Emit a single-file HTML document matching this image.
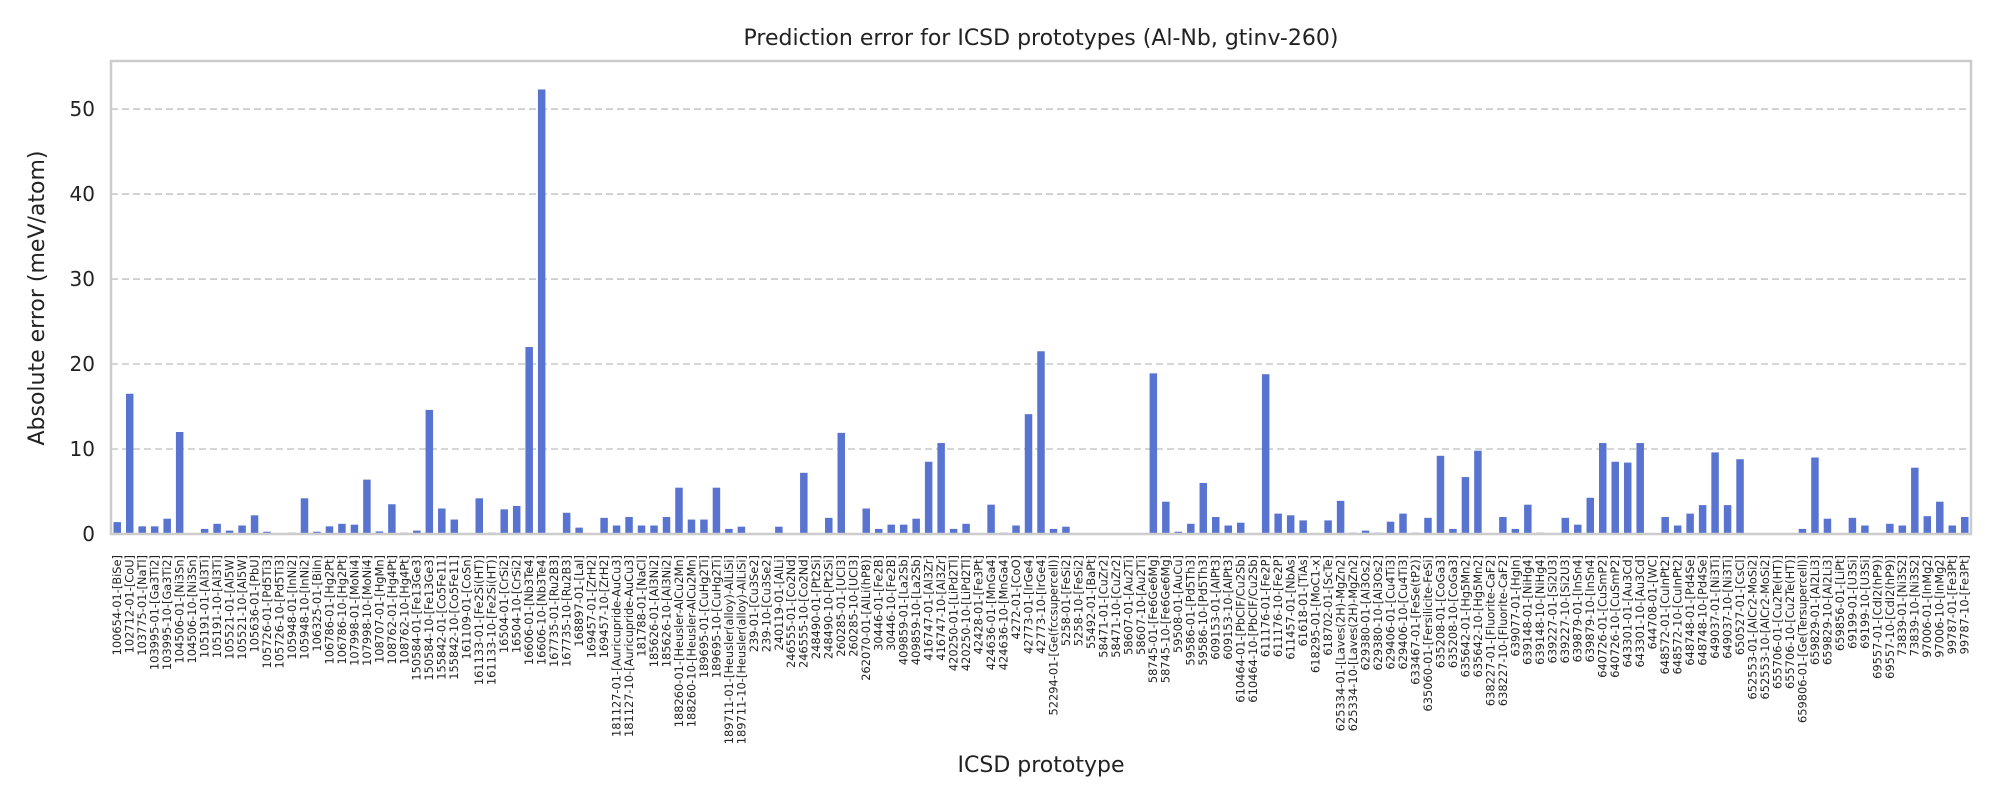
<!DOCTYPE html>
<html><head><meta charset="utf-8"><style>
html,body{margin:0;padding:0;background:#fff;}
svg{display:block;font-family:"DejaVu Sans","Liberation Sans",sans-serif;}
</style></head><body>
<svg id="chart" width="2000" height="800" viewBox="0 0 2000 800" xmlns="http://www.w3.org/2000/svg">
<rect x="0" y="0" width="2000" height="800" fill="#fff"/>
<text x="1041" y="45" font-size="22" text-anchor="middle" fill="#222">Prediction error for ICSD prototypes (Al-Nb, gtinv-260)</text>
<text x="1041" y="772" font-size="22" text-anchor="middle" fill="#222">ICSD prototype</text>
<text transform="translate(44,298) rotate(-90)" font-size="22" text-anchor="middle" fill="#222">Absolute error (meV/atom)</text>
<g id="grid"></g><g id="bars"></g><g id="yticks"></g><g id="xticks"></g>
<rect x="111" y="61" width="1860" height="473" fill="none" stroke="#cccccc" stroke-width="2.5"/>
</svg>
<script>
const categories = ["100654-01-[BiSe]","102712-01-[CoU]","103775-01-[NaTl]","103995-01-[Ga3Ti2]","103995-10-[Ga3Ti2]","104506-01-[Ni3Sn]","104506-10-[Ni3Sn]","105191-01-[Al3Ti]","105191-10-[Al3Ti]","105521-01-[Al5W]","105521-10-[Al5W]","105636-01-[PbU]","105726-01-[Pd5Ti3]","105726-10-[Pd5Ti3]","105948-01-[InNi2]","105948-10-[InNi2]","106325-01-[BiIn]","106786-01-[Hg2Pt]","106786-10-[Hg2Pt]","107998-01-[MoNi4]","107998-10-[MoNi4]","108707-01-[HgMn]","108762-01-[Hg4Pt]","108762-10-[Hg4Pt]","150584-01-[Fe13Ge3]","150584-10-[Fe13Ge3]","155842-01-[Co5Fe11]","155842-10-[Co5Fe11]","161109-01-[CoSn]","161133-01-[Fe2Si(HT)]","161133-10-[Fe2Si(HT)]","16504-01-[CrSi2]","16504-10-[CrSi2]","16606-01-[Nb3Te4]","16606-10-[Nb3Te4]","167735-01-[Ru2B3]","167735-10-[Ru2B3]","168897-01-[LaI]","169457-01-[ZrH2]","169457-10-[ZrH2]","181127-01-[Auricupride-AuCu3]","181127-10-[Auricupride-AuCu3]","181788-01-[NaCl]","185626-01-[Al3Ni2]","185626-10-[Al3Ni2]","188260-01-[Heusler-AlCu2Mn]","188260-10-[Heusler-AlCu2Mn]","189695-01-[CuHg2Ti]","189695-10-[CuHg2Ti]","189711-01-[Heusler(alloy)-AlLiSi]","189711-10-[Heusler(alloy)-AlLiSi]","239-01-[Cu3Se2]","239-10-[Cu3Se2]","240119-01-[AlLi]","246555-01-[Co2Nd]","246555-10-[Co2Nd]","248490-01-[Pt2Si]","248490-10-[Pt2Si]","260285-01-[UCl3]","260285-10-[UCl3]","262070-01-[AlLi(hP8)]","30446-01-[Fe2B]","30446-10-[Fe2B]","409859-01-[La2Sb]","409859-10-[La2Sb]","416747-01-[Al3Zr]","416747-10-[Al3Zr]","420250-01-[LiPd2Tl]","420250-10-[LiPd2Tl]","42428-01-[Fe3Pt]","424636-01-[MnGa4]","424636-10-[MnGa4]","4272-01-[CoO]","42773-01-[IrGe4]","42773-10-[IrGe4]","52294-01-[Ge(fccsupercell)]","5258-01-[FeSi2]","5258-10-[FeSi2]","55492-01-[BaPt]","58471-01-[CuZr2]","58471-10-[CuZr2]","58607-01-[Au2Ti]","58607-10-[Au2Ti]","58745-01-[Fe6Ge6Mg]","58745-10-[Fe6Ge6Mg]","59508-01-[AuCu]","59586-01-[Pd5Th3]","59586-10-[Pd5Th3]","609153-01-[AlPt3]","609153-10-[AlPt3]","610464-01-[PbClF/Cu2Sb]","610464-10-[PbClF/Cu2Sb]","611176-01-[Fe2P]","611176-10-[Fe2P]","611457-01-[NbAs]","61618-01-[TiAs]","618295-01-[MoC1-x]","618702-01-[ScTe]","625334-01-[Laves(2H)-MgZn2]","625334-10-[Laves(2H)-MgZn2]","629380-01-[Al3Os2]","629380-10-[Al3Os2]","629406-01-[Cu4Ti3]","629406-10-[Cu4Ti3]","633467-01-[FeSe(tP2)]","635060-01-[Fersilicite-FeSi]","635208-01-[CoGa3]","635208-10-[CoGa3]","635642-01-[Hg5Mn2]","635642-10-[Hg5Mn2]","638227-01-[Fluorite-CaF2]","638227-10-[Fluorite-CaF2]","639077-01-[HgIn]","639148-01-[NiHg4]","639148-10-[NiHg4]","639227-01-[Si2U3]","639227-10-[Si2U3]","639879-01-[InSn4]","639879-10-[InSn4]","640726-01-[CuSmP2]","640726-10-[CuSmP2]","643301-01-[Au3Cd]","643301-10-[Au3Cd]","644708-01-[WC]","648572-01-[CuInPt2]","648572-10-[CuInPt2]","648748-01-[Pd4Se]","648748-10-[Pd4Se]","649037-01-[Ni3Ti]","649037-10-[Ni3Ti]","650527-01-[CsCl]","652553-01-[AlCr2-MoSi2]","652553-10-[AlCr2-MoSi2]","655706-01-[Cu2Te(HT)]","655706-10-[Cu2Te(HT)]","659806-01-[Ge(Tersupercell)]","659829-01-[Al2Li3]","659829-10-[Al2Li3]","659856-01-[LiPt]","69199-01-[U3Si]","69199-10-[U3Si]","69557-01-[CdI2(hP9)]","69557-10-[CdI2(hP9)]","73839-01-[Ni3S2]","73839-10-[Ni3S2]","97006-01-[InMg2]","97006-10-[InMg2]","99787-01-[Fe3Pt]","99787-10-[Fe3Pt]"];
const errors = [1.4,16.5,0.9,0.9,1.8,12.0,0,0.6,1.2,0.4,1.0,2.2,0.27,0,0.15,4.2,0.27,0.9,1.2,1.1,6.4,0.3,3.5,0.15,0.4,14.6,3.0,1.7,0,4.2,0.15,2.9,3.3,22.0,52.3,0,2.5,0.75,0,1.9,1.0,2.0,1.0,1.0,2.0,5.45,1.7,1.7,5.45,0.6,0.86,0,0,0.86,0,7.2,0,1.9,11.9,0,3.0,0.6,1.1,1.1,1.8,8.5,10.7,0.6,1.2,0,3.45,0.15,1.0,14.1,21.5,0.6,0.86,0,0,0,0,0,0,18.9,3.8,0.27,1.2,6.0,2.0,1.0,1.33,0,18.8,2.4,2.2,1.6,0,1.6,3.9,0.15,0.4,0.15,1.45,2.4,0.15,1.9,9.2,0.6,6.7,9.8,0,2.0,0.6,3.45,0.15,0,1.9,1.1,4.26,10.7,8.5,8.4,10.7,0,2.0,1.0,2.4,3.4,9.6,3.4,8.8,0,0,0,0,0.6,9.0,1.8,0,1.9,1.0,0,1.2,1.0,7.8,2.1,3.8,1.0,2.0];
const yTicks = [0,10,20,30,40,50];

const NS = "http://www.w3.org/2000/svg";
const L = 111, R = 1971, T = 61, B = 534, YMAX = 55.65;
const step = (R - L) / categories.length;
function xPos(i){ return L + step * (i + 0.5); }
function yPos(v){ return B - (v / YMAX) * (B - T); }
function mk(tag, attrs){ const e = document.createElementNS(NS, tag); for (const k in attrs) e.setAttribute(k, attrs[k]); return e; }

const grid = document.getElementById('grid'), yt = document.getElementById('yticks');
yTicks.forEach(t => {
  const y = yPos(t);
  const g = mk('line', {x1: L, x2: R, y1: y, y2: y, stroke: '#c8c8c8', 'stroke-width': 1.6, 'stroke-dasharray': '7,4'});
  
  
  grid.appendChild(g);
  const tx = mk('text', {x: L - 16, y: y + 7, 'font-size': 20, 'text-anchor': 'end', fill: '#222'});
  tx.textContent = t;
  
  
  yt.appendChild(tx);
});

const bars = document.getElementById('bars'), xt = document.getElementById('xticks');
const bw = step * 0.6;
categories.forEach((c, i) => {
  const v = errors[i];
  const y = yPos(v);
  const r = mk('rect', {x: xPos(i) - bw/2, y: y, width: bw, height: B - y, fill: '#5874d0'});
  
  
  bars.appendChild(r);
  const tx = mk('text', {transform: 'translate(' + (xPos(i) + 3.9) + ',555) rotate(-90)', 'font-size': 11.4, 'text-anchor': 'end', fill: '#222'});
  tx.textContent = c;
  
  
  xt.appendChild(tx);
});
</script>
</body></html>
